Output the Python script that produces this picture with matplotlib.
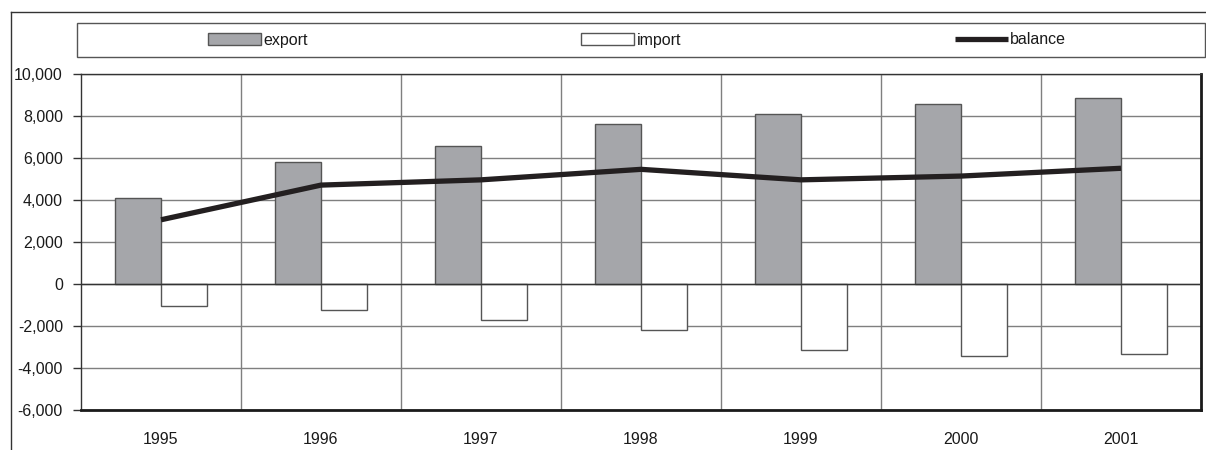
import numpy as np
import matplotlib.pyplot as plt
from matplotlib.patches import Rectangle, Patch
from matplotlib.lines import Line2D
import matplotlib.ticker as ticker

plt.rcParams['font.family'] = ['Liberation Sans', 'DejaVu Sans']

# trade data, thousands
years = ['1995', '1996', '1997', '1998', '1999', '2000', '2001']
export = [4100, 5800, 6550, 7600, 8100, 8570, 8850]
imports = [-1050, -1250, -1700, -2200, -3150, -3430, -3320]
balance = [3050, 4700, 4950, 5450, 4950, 5130, 5500]

W, H = 1206, 450
fig = plt.figure(figsize=(W / 100, H / 100), dpi=100)
ax = fig.add_axes([81 / W, (H - 410) / H, 1120 / W, 336.3 / H])

x = np.arange(len(years))
bw = 0.2875
grid_c = '#7f7f7f'
edge_c = '#555555'
fs = 11.5

# bars
ax.bar(x - bw / 2, export, width=bw, color='#a5a6aa', edgecolor=edge_c,
       linewidth=1, zorder=3, label='export')
ax.bar(x + bw / 2, imports, width=bw, color='white', edgecolor=edge_c,
       linewidth=1, zorder=3, label='import')
# balance line
ax.plot(x, balance, color='#231f20', linewidth=3.8, zorder=4,
        solid_capstyle='butt', label='balance')

ax.axhline(0, color='#333333', linewidth=1, zorder=3.5)

# axes
ax.set_xlim(-0.5, len(years) - 0.5)
ax.set_ylim(-6000, 10000)
ax.yaxis.set_major_locator(ticker.MultipleLocator(2000))
ax.yaxis.set_major_formatter(ticker.FuncFormatter(lambda v, p: f'{int(v):,}'))
ax.set_xticks(x)
ax.set_xticklabels(years)
ax.set_xticks(x[:-1] + 0.5, minor=True)

ax.grid(axis='y', which='major', color=grid_c, linewidth=1, zorder=0)
ax.grid(axis='x', which='minor', color=grid_c, linewidth=1, zorder=0)

ax.tick_params(axis='y', direction='out', length=6, width=1, color='#333333',
               labelsize=fs, labelcolor='#1a1a1a', pad=7)
ax.tick_params(axis='x', which='both', length=0, labelsize=fs,
               labelcolor='#1a1a1a', pad=16)

for side in ['left', 'top']:
    ax.spines[side].set_color('#333333')
    ax.spines[side].set_linewidth(1)
for side in ['right', 'bottom']:
    ax.spines[side].set_color('#1a1a1a')
    ax.spines[side].set_linewidth(2)

# legend box
fig.add_artist(Rectangle((77 / W, (H - 57) / H), 1128 / W, 34 / H,
                         transform=fig.transFigure, facecolor='white',
                         edgecolor=edge_c, linewidth=1))
handles = [Patch(facecolor='#a5a6aa', edgecolor=edge_c, linewidth=1),
           Patch(facecolor='white', edgecolor=edge_c, linewidth=1),
           Line2D([], [], color='#231f20', linewidth=3.8, solid_capstyle='butt')]
fig.legend(handles, ['export', 'import', 'balance'], ncol=3, frameon=False,
           loc='center', bbox_to_anchor=(637 / W, (H - 40) / H),
           fontsize=fs, handlelength=3.3, handleheight=0.75,
           handletextpad=0.15, columnspacing=17.15, labelcolor='#1a1a1a')

# outer chart frame
fig.add_artist(Line2D([11 / W, 1], [(H - 12) / H] * 2,
                      transform=fig.transFigure, color='#333333', linewidth=1))
fig.add_artist(Line2D([11 / W] * 2, [0, (H - 12) / H],
                      transform=fig.transFigure, color='#333333', linewidth=1))

fig.savefig('out.png', dpi=100)
